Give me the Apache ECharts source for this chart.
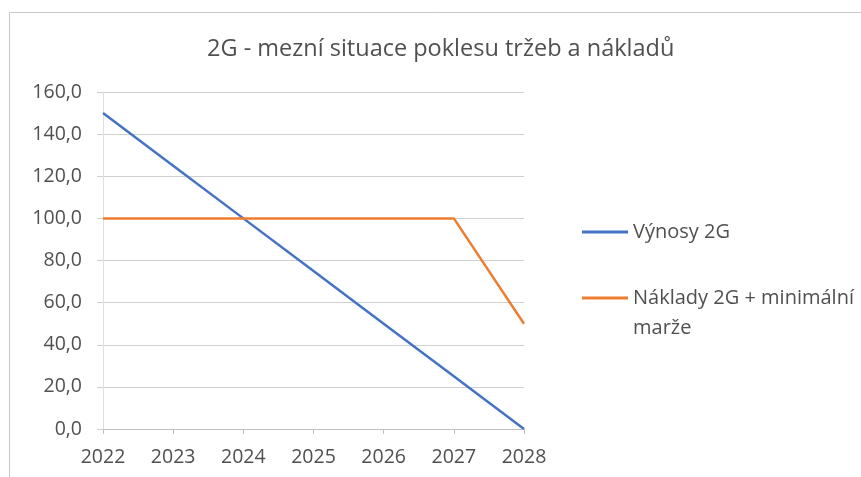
<!DOCTYPE html>
<html>
<head>
<meta charset="utf-8">
<script src="https://cdn.jsdelivr.net/npm/echarts@6/dist/echarts.min.js"></script>
<style>
  html, body { margin: 0; padding: 0; background: #fff; }
  #chart { width: 861px; height: 477px; }
</style>
</head>
<body>
<div id="chart"></div>
<script>
var years = ['2022', '2023', '2024', '2025', '2026', '2027', '2028'];
var vynosy = [150, 125, 100, 75, 50, 25, 0];
var naklady = [100, 100, 100, 100, 100, 100, 50];
var titleText = '2G - mezní situace poklesu tržeb a nákladů';
var nameVynosy = 'Výnosy 2G';
var nameNaklady = 'Náklady 2G + minimální marže';

var textColor = '#505050';
var gridColor = '#d0d0d0';

var myChart = echarts.init(document.getElementById('chart'));

var option = {
    backgroundColor: '#fff',
    animation: false,
    textStyle: { fontFamily: 'Open Sans' },
    title: {
        text: titleText,
        left: 207,
        top: 34,
        padding: 0,
        textStyle: {
            fontFamily: 'Open Sans',
            fontSize: 23.5,
            fontWeight: 'normal',
            color: textColor,
            lineHeight: 30
        }
    },
    graphic: [{
        type: 'rect',
        shape: { x: 9.5, y: 12.5, width: 900, height: 500 },
        style: { fill: 'none', stroke: '#c8c8c8', lineWidth: 1 },
        silent: true
    }],
    legend: {
        orient: 'vertical',
        left: 577,
        top: 212,
        itemGap: 6,
        itemWidth: 46,
        itemHeight: 3,
        icon: 'rect',
        formatter: function(name) {
            // wrap the long label; empty first line keeps the icon on the first text line
            if (name === nameNaklady) {
                return '\nNáklady 2G + minimální\nmarže';
            }
            return name;
        },
        textStyle: {
            fontFamily: 'Open Sans',
            fontSize: 20,
            color: textColor,
            lineHeight: 30
        },
        data: [nameVynosy, nameNaklady]
    },
    grid: {
        left: 103,
        right: 337,
        top: 92,
        bottom: 48
    },
    xAxis: {
        type: 'category',
        data: years,
        boundaryGap: false,
        axisLine: { lineStyle: { color: '#bfbfbf', width: 1 } },
        axisTick: { show: true, length: 5, lineStyle: { color: '#bfbfbf' } },
        axisLabel: {
            fontFamily: 'Open Sans',
            fontSize: 19.5,
            color: textColor,
            margin: 18
        },
        splitLine: { show: false }
    },
    yAxis: {
        type: 'value',
        min: 0,
        max: 160,
        interval: 20,
        axisLine: { show: true, lineStyle: { color: '#e0e0e0' } },
        axisTick: { show: true, length: 6, lineStyle: { color: gridColor } },
        axisLabel: {
            fontFamily: 'Open Sans',
            fontSize: 19.5,
            color: textColor,
            margin: 21,
            formatter: function(v) {
                return v.toFixed(1).replace('.', ',');
            }
        },
        splitLine: { show: true, lineStyle: { color: gridColor, width: 1 } }
    },
    series: [{
        name: nameVynosy,
        type: 'line',
        data: vynosy,
        symbol: 'none',
        lineStyle: { color: '#4472C4', width: 2.5 },
        itemStyle: { color: '#4472C4' }
    }, {
        name: nameNaklady,
        type: 'line',
        data: naklady,
        symbol: 'none',
        lineStyle: { color: '#ED7D31', width: 2.5 },
        itemStyle: { color: '#ED7D31' }
    }]
};

myChart.setOption(option);
</script>
</body>
</html>
